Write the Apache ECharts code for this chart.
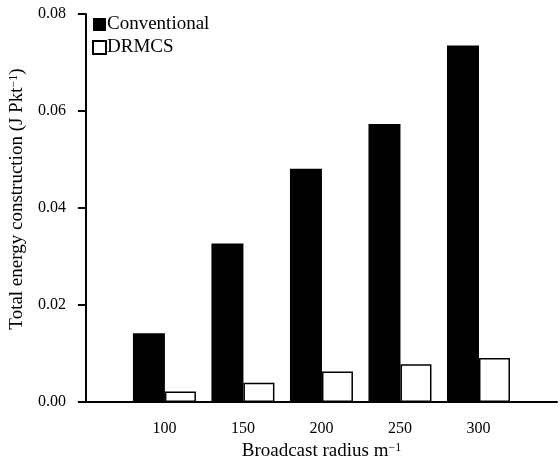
<!DOCTYPE html>
<html><head><meta charset="utf-8">
<script src="https://cdn.jsdelivr.net/npm/echarts@6/dist/echarts.min.js"></script>
<style>html,body{margin:0;padding:0;background:#fff}#c{width:560px;height:466px}</style>
</head><body><div id="c"></div>
<script>
var categories = [100, 150, 200, 250, 300];
var conventional = [0.0142, 0.0327, 0.0481, 0.0573, 0.0735];
var drmcs = [0.0022, 0.0040, 0.0063, 0.0078, 0.0091];
var yTicks = [0, 0.02, 0.04, 0.06, 0.08];
var font = 'Liberation Serif';
var chart = echarts.init(document.getElementById('c'));
function pairs(vals){ return categories.map(function(c,i){return [c, vals[i]];}); }
var supStyle = {fontSize:12,verticalAlign:'top',lineHeight:19,fontFamily:font,color:'#000'};
chart.setOption({
  animation:false,
  backgroundColor:'#fff',
  textStyle:{fontFamily:font},
  grid:{left:85,right:0,top:14,bottom:61,containLabel:false},
  legend:{
    orient:'vertical', left:92, top:15, padding:0, itemWidth:13, itemHeight:13, itemGap:4,
    textStyle:{fontFamily:font,fontSize:19,color:'#000',padding:[0,0,0,-4]},
    data:[{name:'Conventional',icon:'rect'},{name:'DRMCS',icon:'rect'}]
  },
  xAxis:{
    type:'value', min:50, max:350, interval:50,
    name:'Broadcast radius m{sup|−1}', nameLocation:'middle', nameGap:35,
    nameTextStyle:{fontFamily:font,fontSize:19,color:'#000',rich:{sup:supStyle}},
    axisLine:{lineStyle:{color:'#000',width:2}},
    axisTick:{show:false},
    splitLine:{show:false},
    axisLabel:{fontFamily:font,fontSize:16,color:'#000',margin:19,
      formatter:function(v){return categories.indexOf(v)>=0?String(v):'';}}
  },
  yAxis:{
    type:'value', min:yTicks[0], max:yTicks[yTicks.length-1], interval:0.02,
    name:'Total energy construction (J Pkt{sup|−1})', nameLocation:'middle', nameGap:58, nameRotate:90,
    nameTextStyle:{fontFamily:font,fontSize:19,color:'#000',padding:[0,0,0,18],rich:{sup:supStyle}},
    axisLine:{show:true,lineStyle:{color:'#000',width:2}},
    axisTick:{show:true,inside:false,length:8,lineStyle:{color:'#000',width:2}},
    splitLine:{show:false},
    axisLabel:{fontFamily:font,fontSize:16,color:'#000',margin:20,
      formatter:function(v){return v.toFixed(2);}}
  },
  series:[
    {name:'Conventional',type:'bar',data:pairs(conventional),barWidth:32,barGap:'0%',
      itemStyle:{color:'#000',borderColor:'#000',borderWidth:0}},
    {name:'DRMCS',type:'bar',data:pairs(drmcs),barWidth:31,barGap:'0%',
      itemStyle:{color:'#fff',borderColor:'#000',borderWidth:1.5}}
  ]
});
</script></body></html>
